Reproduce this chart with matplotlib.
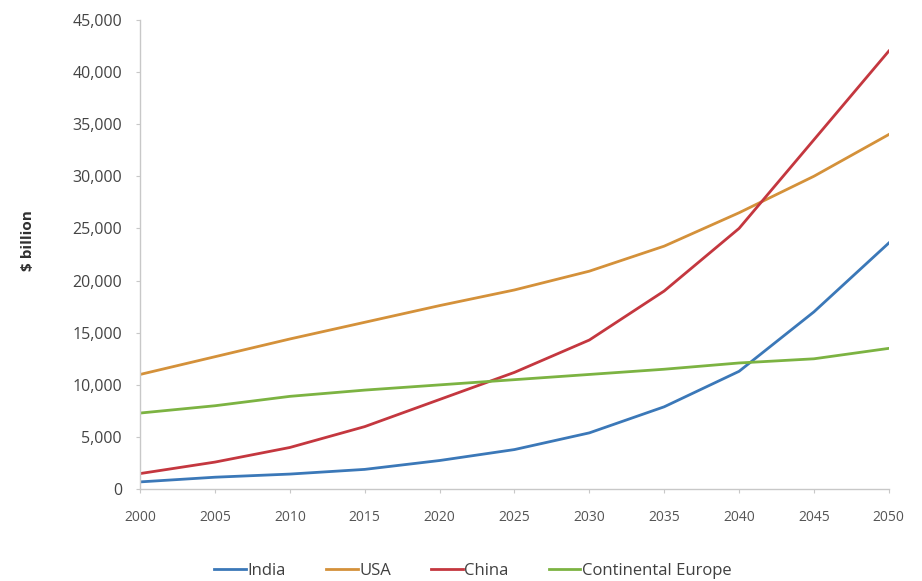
import matplotlib.pyplot as plt

# Years
years = [2000, 2005, 2010, 2015, 2020, 2025, 2030, 2035, 2040, 2045, 2050]

# GDP ($ billion)
india = [700, 1150, 1450, 1900, 2750, 3800, 5400, 7900, 11300, 17000, 23600]
usa = [11000, 12700, 14400, 16000, 17600, 19100, 20900, 23300, 26500, 30000, 34000]
china = [1500, 2600, 4000, 6000, 8600, 11200, 14300, 19000, 25000, 33500, 42000]
europe = [7300, 8000, 8900, 9500, 10000, 10500, 11000, 11500, 12100, 12500, 13500]

yticks = list(range(0, 45001, 5000))

plt.rcParams['font.family'] = ['Open Sans', 'DejaVu Sans']

fig = plt.figure(figsize=(9.22, 5.81), dpi=100)
ax = fig.add_axes([0.152, 0.158, 0.812, 0.808])

ax.plot(years, india, color='#3b78b8', linewidth=2, label='India')
ax.plot(years, usa, color='#d4913a', linewidth=2, label='USA')
ax.plot(years, china, color='#c4373f', linewidth=2, label='China')
ax.plot(years, europe, color='#7cb342', linewidth=2, label='Continental Europe')

ax.set_xlim(2000, 2050)
ax.set_ylim(0, 45000)
ax.set_xticks(years)
ax.set_yticks(yticks)
ax.set_yticklabels([f'{v:,}' for v in yticks])

for s in ['top', 'right']:
    ax.spines[s].set_visible(False)
for s in ['left', 'bottom']:
    ax.spines[s].set_color('#c8c8c8')
    ax.spines[s].set_linewidth(1)

ax.tick_params(axis='y', colors='#c8c8c8', labelcolor='#444444', labelsize=11.5, length=3, pad=10)
ax.tick_params(axis='x', colors='#c8c8c8', labelcolor='#555555', labelsize=10, length=3, pad=12)

ax.set_ylabel('$ billion', fontsize=11, fontweight='bold', color='#303030')
ax.yaxis.set_label_coords(-0.14, 0.53)

fig.legend(loc='center', bbox_to_anchor=(0.513, 0.018), ncol=4, frameon=False,
           fontsize=12, handlelength=1.9, columnspacing=2.4, handletextpad=0.1,
           labelcolor='#404040')

fig.savefig('out.png', dpi=100)
